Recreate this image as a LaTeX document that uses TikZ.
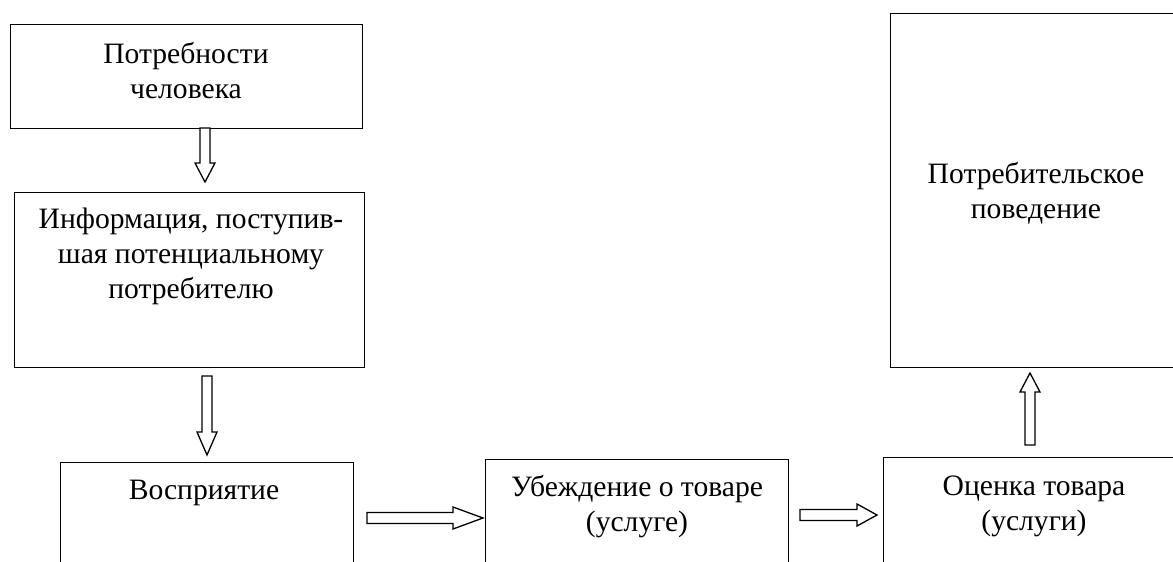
\documentclass[tikz,border=0pt]{standalone}
\usepackage{fontspec}
\setmainfont{Liberation Serif}
\usetikzlibrary{calc}
\tikzset{
  box/.style={draw=black, line width=1.3pt, rectangle, inner sep=0pt, anchor=north west},
  txt/.style={font=\fontsize{29.6}{35}\selectfont, align=center, inner sep=0pt, anchor=base},
  barrow/.style={draw=black, fill=white, line width=1.3pt, line join=miter}
}
% down block arrow: start, tip, head length
\newcommand\darrow[3]{\draw[barrow] ($(#1)+(-5,0)$) -- ($(#2)+(-5,-#3)$) -- ($(#2)+(-10,-#3)$) -- (#2) -- ($(#2)+(10,-#3)$) -- ($(#2)+(5,-#3)$) -- ($(#1)+(5,0)$) -- cycle;}
% up block arrow
\newcommand\uarrow[3]{\draw[barrow] ($(#1)+(-5,0)$) -- ($(#2)+(-5,#3)$) -- ($(#2)+(-10,#3)$) -- (#2) -- ($(#2)+(10,#3)$) -- ($(#2)+(5,#3)$) -- ($(#1)+(5,0)$) -- cycle;}
% right block arrow
\newcommand\rarrow[3]{\draw[barrow] ($(#1)+(0,-5.5)$) -- ($(#2)+(-#3,-5.5)$) -- ($(#2)+(-#3,-11)$) -- (#2) -- ($(#2)+(-#3,11)$) -- ($(#2)+(-#3,5.5)$) -- ($(#1)+(0,5.5)$) -- cycle;}
\begin{document}
\begin{tikzpicture}[x=1pt, y=-1pt]
\useasboundingbox (0,0) rectangle (1173,562);
\clip (0,0) rectangle (1173,562);
% boxes
\node[box, minimum width=352pt, minimum height=104pt] (b1) at (10,24) {};
\node[box, minimum width=350pt, minimum height=175pt] (b2) at (14,192) {};
\node[box, minimum width=293pt, minimum height=150pt] (b3) at (60,462) {};
\node[box, minimum width=303pt, minimum height=150pt] (b4) at (485,459) {};
\node[box, minimum width=310pt, minimum height=150pt] (b5) at (883,457) {};
\node[box, minimum width=310pt, minimum height=354pt] (b6) at (890,13) {};
% texts (anchor = baseline of last line)
\node[txt] (t1) at (186,98) {Потребности\\человека};
\node[txt] (t2) at (191,298) {Информация, поступив-\\шая потенциальному\\потребителю};
\node[txt] (t3) at (204,499) {Восприятие};
\node[txt] (t4) at (637,531) {Убеждение о товаре\\(услуге)};
\node[txt] (t5) at (1034,530) {Оценка товара\\(услуги)};
\node[txt] (t6) at (1036,218) {Потребительское\\поведение};
% connector end points
\coordinate (a1s) at (205,128);
\coordinate (a1e) at (205,182);
\coordinate (a2s) at (207,376);
\coordinate (a2e) at (207,455);
\coordinate (a3s) at (367,518);
\coordinate (a3e) at (483,518);
\coordinate (a4s) at (800,515);
\coordinate (a4e) at (877,515);
\coordinate (a5s) at (1030,445);
\coordinate (a5e) at (1030,373);
% arrows
\darrow{a1s}{a1e}{19}
\darrow{a2s}{a2e}{23}
\rarrow{a3s}{a3e}{30}
\rarrow{a4s}{a4e}{20}
\uarrow{a5s}{a5e}{19}
\end{tikzpicture}
\end{document}
